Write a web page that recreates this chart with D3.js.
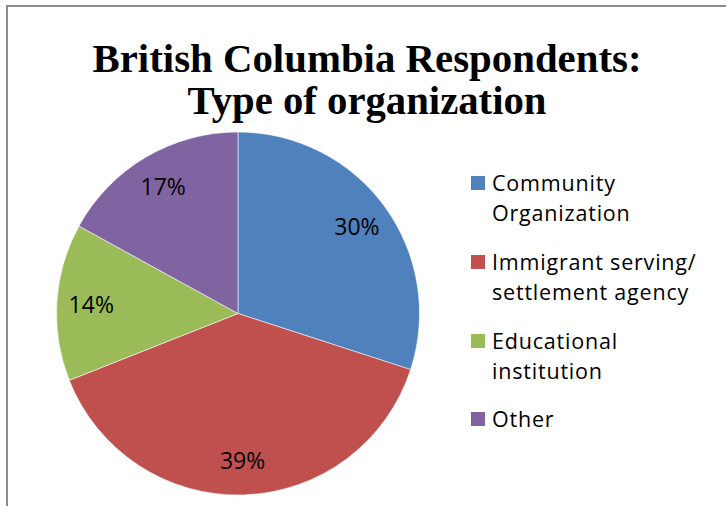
<!DOCTYPE html>
<html><head><meta charset="utf-8">
<script src="https://cdn.jsdelivr.net/npm/d3@7"></script>
<style>
html,body{margin:0;padding:0;background:#fff;}
svg{display:block;}
</style></head>
<body>
<script>
const titleLines = ["British Columbia Respondents:", "Type of organization"];
const categories = ["Community Organization", "Immigrant serving/ settlement agency", "Educational institution", "Other"];
const legendLines = [["Community", "Organization"], ["Immigrant serving/", "settlement agency"], ["Educational", "institution"], ["Other"]];
const values = [30, 39, 14, 17];
const colors = ["#4F81BD", "#C0504D", "#9BBB59", "#8064A2"];

const W = 726, H = 506;
const svg = d3.select("body").append("svg").attr("width", W).attr("height", H);

// frame
svg.append("rect").attr("x", 7).attr("y", 6).attr("width", 730).attr("height", 520)
  .attr("fill", "#fff").attr("stroke", "#8c8c8c").attr("stroke-width", 2);

// title
const titleWidths = [549, 359];
const titleBase = [72, 114];
titleLines.forEach((t, i) => {
  svg.append("text").attr("x", 367).attr("y", titleBase[i])
    .attr("text-anchor", "middle")
    .attr("font-family", "'Liberation Serif', serif").attr("font-weight", "bold")
    .attr("font-size", 40).attr("fill", "#000")
    .attr("textLength", titleWidths[i]).attr("lengthAdjust", "spacingAndGlyphs")
    .text(t);
});

// pie
const cx = 238, cy = 313.5, r = 181.5;
const pie = d3.pie().sort(null).value(d => d)(values);
const arc = d3.arc().innerRadius(0).outerRadius(r);
const labelArc = d3.arc().innerRadius(r * 0.81).outerRadius(r * 0.81);
const g = svg.append("g").attr("transform", `translate(${cx},${cy})`);
g.selectAll("path").data(pie).join("path")
  .attr("d", arc).attr("fill", (d, i) => colors[i])
  .attr("stroke", "#ffffff").attr("stroke-width", 0.8).attr("stroke-opacity", 0.7);
g.selectAll("text").data(pie).join("text")
  .attr("transform", d => { const c = labelArc.centroid(d); return `translate(${c[0]},${c[1]})`; })
  .attr("text-anchor", "middle").attr("dy", "0.36em")
  .attr("font-family", "'Open Sans', sans-serif").attr("font-size", 23).attr("fill", "#000")
  .text(d => d.value + "%");

// legend
const legendTop = [183, 262, 341, 419];
const lg = svg.append("g");
legendLines.forEach((lines, i) => {
  lg.append("rect").attr("x", 471).attr("y", legendTop[i] - 7).attr("width", 14).attr("height", 14)
    .attr("fill", colors[i]);
  lines.forEach((ln, j) => {
    lg.append("text").attr("x", 492).attr("y", legendTop[i] + j * 30).attr("dy", "0.36em")
      .attr("font-family", "'Open Sans', sans-serif").attr("font-size", 21.5)
      .attr("letter-spacing", 0.8).attr("fill", "#000").text(ln);
  });
});
</script>
</body></html>
